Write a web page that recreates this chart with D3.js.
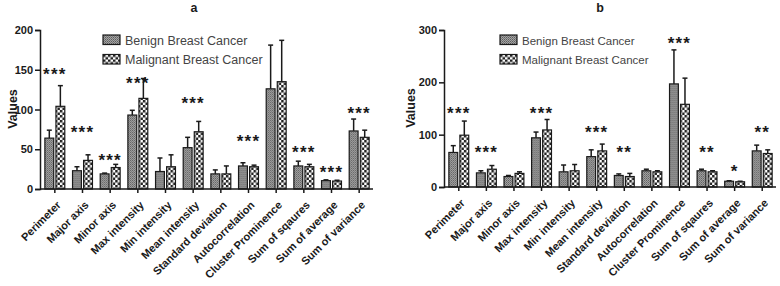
<!DOCTYPE html>
<html>
<head>
<meta charset="utf-8">
<script src="https://cdn.jsdelivr.net/npm/d3@7"></script>
<style>
  body { margin: 0; background: #fff; }
  svg { display: block; font-family: "Liberation Sans", Arial, sans-serif; }
</style>
</head>
<body>
<svg id="chart" width="780" height="286"></svg>
<script>
(function () {
    // categories shared by both panels
    const categories = ["Perimeter", "Major axis", "Minor axis", "Max intensity", "Min intensity",
        "Mean intensity", "Standard deviation", "Autocorrelation", "Cluster Prominence",
        "Sum of sqaures", "Sum of average", "Sum of variance"];
    const seriesNames = ["Benign Breast Cancer", "Malignant Breast Cancer"];

    // panel a
    const benignA = [64, 23, 19, 93, 22, 52, 19, 29, 126, 29, 10.5, 73];
    const benignErrA = [10, 5, 1, 6, 17, 13, 5, 4, 55, 6, 1, 15];
    const malignantA = [104, 36, 27, 114, 28, 72, 19, 28, 135, 28, 10, 65];
    const malignantErrA = [26, 7, 4, 25, 15, 13, 10, 2, 52, 3, 1, 9];
    const sigA = ["***", "***", "***", "***", "", "***", "", "***", "", "***", "***", "***"];
    const sigPosA = [150, 77, 41, 138, null, 113, null, 65, null, 52, 27, 101];
    const ticksA = [0, 50, 100, 150, 200];

    // panel b
    const benignB = [66, 27, 20, 94, 29, 58, 22, 31, 197, 31, 11, 69];
    const benignErrB = [13, 4, 2, 11, 13, 13, 3, 3, 65, 3, 1, 11];
    const malignantB = [99, 34, 26, 109, 31, 69, 20, 29, 158, 29, 10, 64];
    const malignantErrB = [27, 7, 3, 20, 12, 13, 6, 2, 50, 2, 1, 7];
    const sigB = ["***", "***", "", "***", "", "***", "**", "", "***", "**", "*", "**"];
    const sigPosB = [149, 75, null, 149, null, 112, 75, null, 283, 74, 39, 112];
    const ticksB = [0, 100, 200, 300];

    const svg = d3.select("#chart");
    const ink = "#1a1a1a";

    // fill patterns
    const defs = svg.append("defs");
    const pb = defs.append("pattern").attr("id", "patBenign")
        .attr("patternUnits", "userSpaceOnUse").attr("width", 2).attr("height", 2);
    pb.append("rect").attr("width", 2).attr("height", 2).attr("fill", "#a4a4a4");
    pb.append("rect").attr("width", 1).attr("height", 1).attr("fill", "#5e5e5e");
    pb.append("rect").attr("x", 1).attr("y", 1).attr("width", 1).attr("height", 1).attr("fill", "#777");

    const pm = defs.append("pattern").attr("id", "patMalignant")
        .attr("patternUnits", "userSpaceOnUse").attr("width", 5).attr("height", 5);
    pm.append("rect").attr("width", 5).attr("height", 5).attr("fill", "#fff");
    pm.append("rect").attr("width", 2.5).attr("height", 2.5).attr("fill", "#222");
    pm.append("rect").attr("x", 2.5).attr("y", 2.5).attr("width", 2.5).attr("height", 2.5).attr("fill", "#222");

    const fills = ["url(#patBenign)", "url(#patMalignant)"];

    function drawPanel(p) {
        const g = svg.append("g");

        const y = d3.scaleLinear().domain([0, p.ymax]).range([p.y0, p.y1]);
        const x0 = d3.scaleBand().domain(categories).range([p.xStart, p.xEnd])
            .paddingInner(0.28).paddingOuter(0.14);
        const x1 = d3.scaleBand().domain([0, 1]).range([0, x0.bandwidth()]).paddingInner(0.2);

        const rows = categories.map((c, i) => ({
            cat: c,
            vals: [
                { s: 0, v: p.benign[i], e: p.benignErr[i] },
                { s: 1, v: p.malignant[i], e: p.malignantErr[i] }
            ]
        }));

        const groups = g.selectAll("g.grp").data(rows).join("g")
            .attr("class", "grp")
            .attr("transform", d => `translate(${x0(d.cat)},0)`);

        // error bars (upper only)
        groups.selectAll("line.err").data(d => d.vals).join("line")
            .attr("x1", d => x1(d.s) + x1.bandwidth() / 2)
            .attr("x2", d => x1(d.s) + x1.bandwidth() / 2)
            .attr("y1", d => y(d.v)).attr("y2", d => y(d.v + d.e))
            .attr("stroke", ink).attr("stroke-width", 1.5);
        groups.selectAll("line.cap").data(d => d.vals).join("line")
            .attr("x1", d => x1(d.s) + x1.bandwidth() / 2 - 2.5)
            .attr("x2", d => x1(d.s) + x1.bandwidth() / 2 + 2.5)
            .attr("y1", d => y(d.v + d.e)).attr("y2", d => y(d.v + d.e))
            .attr("stroke", ink).attr("stroke-width", 1.5);

        groups.selectAll("rect").data(d => d.vals).join("rect")
            .attr("x", d => x1(d.s))
            .attr("y", d => y(d.v))
            .attr("width", x1.bandwidth())
            .attr("height", d => y(0) - y(d.v))
            .attr("fill", d => fills[d.s])
            .attr("stroke", ink).attr("stroke-width", 1.2);

        // significance stars
        g.selectAll("text.sig").data(categories.map((c, i) => ({ c: c, s: p.sig[i], pos: p.sigPos[i] }))
            .filter(d => d.s))
            .join("text")
            .attr("x", d => x0(d.c) + x0.bandwidth() / 2)
            .attr("y", d => y(d.pos) + 10)
            .attr("text-anchor", "middle")
            .attr("font-size", 17).attr("font-weight", "bold")
            .attr("letter-spacing", 1.2)
            .attr("fill", ink)
            .text(d => d.s);

        // axes
        const yAxis = d3.axisLeft(y).tickValues(p.ticks).tickSize(5).tickPadding(2);
        const ya = g.append("g").attr("transform", `translate(${p.axisX},0)`).call(yAxis);
        ya.select(".domain").attr("stroke", ink).attr("stroke-width", 1.5);
        ya.selectAll(".tick line").attr("stroke", ink).attr("stroke-width", 1.5);
        ya.selectAll(".tick text").attr("font-size", 11).attr("font-weight", "bold")
            .attr("fill", ink).attr("font-family", "Liberation Sans, Arial, sans-serif");

        const xAxis = d3.axisBottom(x0).tickSize(4).tickSizeOuter(0).tickPadding(4);
        const xa = g.append("g").attr("transform", `translate(0,${p.y0})`).call(xAxis);
        xa.select(".domain").attr("d", `M${p.axisX},0H${p.xEnd}`)
            .attr("stroke", ink).attr("stroke-width", 1.5);
        xa.selectAll(".tick line").attr("stroke", ink).attr("stroke-width", 1.5);
        xa.selectAll(".tick text")
            .attr("font-size", 11).attr("font-weight", "bold").attr("fill", ink)
            .attr("font-family", "Liberation Sans, Arial, sans-serif")
            .attr("text-anchor", "end")
            .attr("dy", "0.35em")
            .attr("transform", "translate(4,14) rotate(-45)")
            .attr("y", 0).attr("x", 0);

        // axis label
        g.append("text")
            .attr("transform", `translate(${p.labelX},${p.labelY}) rotate(-90)`)
            .attr("text-anchor", "middle")
            .attr("font-size", 12.5).attr("font-weight", "bold").attr("fill", ink)
            .text("Values");

        // panel title
        g.append("text").attr("x", p.titleX).attr("y", 12)
            .attr("text-anchor", "middle")
            .attr("font-size", 12.5).attr("font-weight", "bold").attr("fill", ink)
            .text(p.title);

        // legend
        const lg = g.append("g").attr("transform", `translate(${p.legendX},35)`);
        const items = lg.selectAll("g").data(seriesNames).join("g")
            .attr("transform", (d, i) => `translate(0,${i * 19.5})`);
        items.append("rect").attr("width", 17).attr("height", 9.5)
            .attr("fill", (d, i) => fills[i]).attr("stroke", ink).attr("stroke-width", 1.2);
        items.append("text").attr("x", 22).attr("y", 9.5)
            .attr("font-size", p.legendFont).attr("fill", "#444")
            .text(d => d);
    }

    drawPanel({
        benign: benignA, benignErr: benignErrA, malignant: malignantA, malignantErr: malignantErrA,
        sig: sigA, sigPos: sigPosA, ticks: ticksA, ymax: 200,
        y0: 189, y1: 30, axisX: 40, xStart: 41, xEnd: 373,
        labelX: 17, labelY: 109, title: "a", titleX: 194, legendX: 103, legendFont: 12.5
    });

    drawPanel({
        benign: benignB, benignErr: benignErrB, malignant: malignantB, malignantErr: malignantErrB,
        sig: sigB, sigPos: sigPosB, ticks: ticksB, ymax: 300,
        y0: 187, y1: 30, axisX: 444, xStart: 445, xEnd: 776,
        labelX: 415, labelY: 108, title: "b", titleX: 600, legendX: 500, legendFont: 11.5
    });
})();
</script>
</body>
</html>
